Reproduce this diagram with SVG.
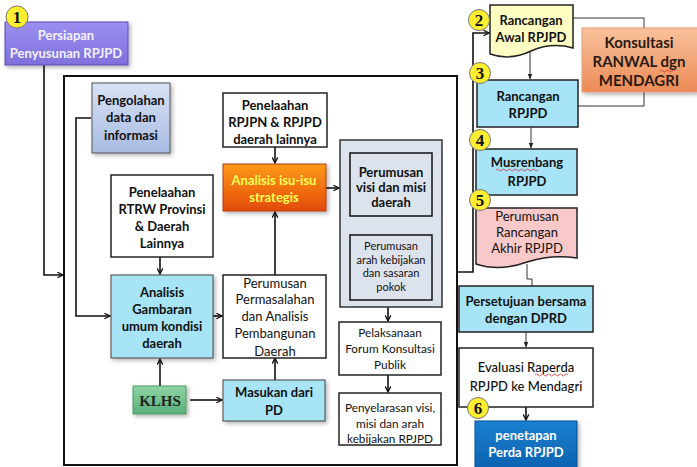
<svg xmlns="http://www.w3.org/2000/svg" width="697" height="467" viewBox="0 0 697 467">
<defs>
<style>
text{font-family:Lato,"Open Sans","Liberation Sans",sans-serif;font-size:13px;text-anchor:middle;fill:#111}
.b{font-weight:bold}
.s{font-size:11.8px}
.t{font-size:11px}
.w{fill:#fff}
.y{fill:#ffff55}
.num{font-family:"Liberation Serif","DejaVu Serif",serif;font-weight:bold;font-size:17px;fill:#111}
.box{stroke:#222;stroke-width:1.5}
.ln{fill:none;stroke:#111;stroke-width:1.6}
.thin{fill:none;stroke:#333;stroke-width:1}
.circ{fill:#ffef30;stroke:#777;stroke-width:1}
</style>
<marker id="ah" viewBox="0 0 10 10" refX="9" refY="5" markerWidth="7" markerHeight="7" orient="auto" markerUnits="userSpaceOnUse">
<path d="M1,1 L9,5 L1,9" fill="none" stroke="#111" stroke-width="1.8"/>
</marker>
<marker id="tri" viewBox="0 0 10 10" refX="9" refY="5" markerWidth="6" markerHeight="6" orient="auto" markerUnits="userSpaceOnUse">
<path d="M0,1 L10,5 L0,9 Z" fill="#222"/>
</marker>
<linearGradient id="gPurple" x1="0" y1="0" x2="0" y2="1"><stop offset="0" stop-color="#9b8ff0"/><stop offset="1" stop-color="#7f70dc"/></linearGradient>
<linearGradient id="gBlueGrey" x1="0" y1="0" x2="0" y2="1"><stop offset="0" stop-color="#d8e2f4"/><stop offset="1" stop-color="#a7bbe2"/></linearGradient>
<linearGradient id="gOrange" x1="0" y1="0" x2="0" y2="1"><stop offset="0" stop-color="#ff9a1a"/><stop offset="1" stop-color="#e24a08"/></linearGradient>
<linearGradient id="gPeach" x1="0" y1="0" x2="0" y2="1"><stop offset="0" stop-color="#f9c29c"/><stop offset="1" stop-color="#ec8a55"/></linearGradient>
<linearGradient id="gGreen" x1="0" y1="0" x2="0" y2="1"><stop offset="0" stop-color="#8fd4a4"/><stop offset="1" stop-color="#5bb07a"/></linearGradient>
<linearGradient id="gBlue" x1="0" y1="0" x2="0" y2="1"><stop offset="0" stop-color="#1a80d0"/><stop offset="1" stop-color="#0c62b0"/></linearGradient>
<filter id="sh" x="-10%" y="-10%" width="130%" height="140%"><feDropShadow dx="2" dy="2" stdDeviation="2" flood-color="#000" flood-opacity="0.3"/></filter>
</defs>
<rect width="697" height="467" fill="#fff"/>

<!-- big frame -->
<rect x="64" y="76" width="393" height="389" fill="none" stroke="#111" stroke-width="2"/>

<!-- connectors -->
<g id="connectors">
<path class="ln" d="M44,65 V275 H63" marker-end="url(#ah)"/>
<path class="ln" d="M91,118 H76 V316 H110" marker-end="url(#ah)"/>
<path class="ln" d="M275,147 V163" marker-end="url(#ah)"/>
<path class="ln" d="M326,188 H339" marker-end="url(#ah)"/>
<path class="ln" d="M160,257 V274" marker-end="url(#ah)"/>
<path class="ln" d="M213,316 H222" marker-end="url(#ah)"/>
<path class="ln" d="M275,275 V212" marker-end="url(#ah)"/>
<path class="ln" d="M160,386 V359" marker-end="url(#ah)"/>
<path class="ln" d="M190,400 H222" marker-end="url(#ah)"/>
<path class="ln" d="M275,380 V358" marker-end="url(#ah)"/>
<path class="ln" d="M388,216 V234" marker-end="url(#ah)"/>
<path class="ln" d="M388,307 V321" marker-end="url(#ah)"/>
<path class="ln" d="M388,375 V392" marker-end="url(#ah)"/>
<path class="ln" d="M457,272 H473 V33 H489" marker-end="url(#ah)"/>
<path class="thin" d="M573,18 H644 V106 H578"/>
<path class="thin" d="M530,52 V79" marker-end="url(#tri)"/>
<path class="thin" d="M531,127 V148" marker-end="url(#tri)"/>
<path class="thin" d="M527,264 V279 H532 V286"/>
<path class="thin" d="M526,332 V347" marker-end="url(#tri)"/>
<path class="ln" d="M526,407 V420" marker-end="url(#ah)"/>
</g>

<g id="n1">
<rect x="5" y="22" width="123" height="43" fill="url(#gPurple)" stroke="#5a4fb0" stroke-width="1" filter="url(#sh)"/>
<text class="b w" x="66" y="40" style="fill:#f4f0ff">Persiapan</text>
<text class="b w" x="66" y="58" style="fill:#f4f0ff">Penyusunan RPJPD</text>
<circle class="circ" cx="17" cy="17" r="11"/>
<text class="num" x="17" y="23">1</text>
</g>

<g id="pengolahan">
<rect x="92" y="83" width="78" height="70" fill="url(#gBlueGrey)" stroke="#555" stroke-width="1" filter="url(#sh)"/>
<text class="b" x="131" y="105">Pengolahan</text>
<text class="b" x="131" y="122">data dan</text>
<text class="b" x="131" y="140">informasi</text>
</g>

<g id="rpjpn">
<rect class="box" x="223" y="93" width="104" height="54" fill="#fff"/>
<text class="b" x="275" y="110">Penelaahan</text>
<text class="b" x="275" y="127">RPJPN &amp; RPJPD</text>
<text class="b" x="275" y="144">daerah lainnya</text>
</g>

<g id="isu">
<rect x="223" y="164" width="103" height="47" fill="url(#gOrange)" stroke="#b04010" stroke-width="1" filter="url(#sh)"/>
<text class="b y" x="274" y="185">Analisis isu-isu</text>
<text class="b y" x="274" y="202">strategis</text>
</g>

<g id="visiGroup">
<rect x="340" y="140" width="102" height="167" fill="#dde3ec" stroke="#333" stroke-width="1.5"/>
</g>
<g id="visi">
<rect x="350" y="153" width="82" height="63" fill="#dce3ed" stroke="#111" stroke-width="1.5"/>
<text class="b" x="391" y="177">Perumusan</text>
<text class="b" x="391" y="192">visi dan misi</text>
<text class="b" x="391" y="207">daerah</text>
</g>
<g id="arah">
<rect x="350" y="235" width="82" height="65" fill="#dce3ed" stroke="#111" stroke-width="1.5"/>
<text class="t" x="391" y="250">Perumusan</text>
<text class="t" x="391" y="263.6">arah kebijakan</text>
<text class="t" x="391" y="277.2">dan sasaran</text>
<text class="t" x="391" y="290.8">pokok</text>
</g>

<g id="forum">
<rect class="box" x="339" y="322" width="102" height="53" fill="#fff"/>
<text class="s" x="390" y="337">Pelaksanaan</text>
<text class="s" x="390" y="353">Forum Konsultasi</text>
<text class="s" x="390" y="369">Publik</text>
</g>

<g id="penyelarasan">
<rect class="box" x="339" y="393" width="102" height="52" fill="#fff"/>
<text class="s" x="390" y="412">Penyelarasan  visi,</text>
<text class="s" x="390" y="428">misi dan arah</text>
<text class="s" x="390" y="443">kebijakan RPJPD</text>
</g>

<g id="rtrw">
<rect class="box" x="111" y="175" width="102" height="82" fill="#fff"/>
<text class="b" x="162" y="197">Penelaahan</text>
<text class="b" x="162" y="214">RTRW Provinsi</text>
<text class="b" x="162" y="231">&amp; Daerah</text>
<text class="b" x="162" y="248">Lainnya</text>
</g>

<g id="gambaran">
<rect x="111" y="275" width="102" height="83" fill="#a6e4f6" stroke="#444" stroke-width="1" filter="url(#sh)"/>
<text class="b" x="162" y="297">Analisis</text>
<text class="b" x="162" y="314">Gambaran</text>
<text class="b" x="162" y="331">umum kondisi</text>
<text class="b" x="162" y="348">daerah</text>
</g>

<g id="permasalahan">
<rect class="box" x="223" y="275" width="103" height="83" fill="#fff"/>
<text x="275" y="288">Perumusan</text>
<text x="275" y="304">Permasalahan</text>
<text x="275" y="321">dan Analisis</text>
<text x="275" y="338">Pembangunan</text>
<text x="275" y="356">Daerah</text>
</g>

<g id="klhs">
<rect x="133" y="386" width="53" height="28" fill="url(#gGreen)" stroke="#4a9a66" stroke-width="1" filter="url(#sh)"/>
<text x="160" y="406" style="font-family:'Liberation Serif','DejaVu Serif',serif;font-weight:bold;font-size:15px;fill:#1d2a22">KLHS</text>
</g>

<g id="masukan">
<rect x="223" y="380" width="102" height="41" fill="#a6e4f6" stroke="#444" stroke-width="1" filter="url(#sh)"/>
<text class="b" x="274" y="397">Masukan dari</text>
<text class="b" x="274" y="415">PD</text>
</g>

<g id="ranwal">
<path d="M490,5 H573 V48 Q552,42 531,51 Q510,61 490,54 Z" fill="#ffffc4" stroke="#222" stroke-width="1.5"/>
<text class="b" x="531" y="25">Rancangan</text>
<text class="b" x="531" y="42">Awal RPJPD</text>
<circle class="circ" cx="479" cy="20" r="10.5"/>
<text class="num" x="479" y="26">2</text>
</g>

<g id="konsultasi">
<rect x="582" y="28" width="116" height="64" fill="url(#gPeach)" stroke="#e0a080" stroke-width="1" filter="url(#sh)"/>
<text class="b" x="639" y="48" style="font-size:15px;fill:#2a1a10">Konsultasi</text>
<text class="b" x="639" y="67" style="font-size:15px;fill:#2a1a10">RANWAL dgn</text>
<text class="b" x="639" y="86" style="font-size:15px;fill:#2a1a10">MENDAGRI</text>
<path d="M660,71 q1.5,-2 3,0 t3,0 t3,0 t3,0 t3,0" fill="none" stroke="#d03030" stroke-width="0.8"/>
</g>

<g id="rancangan">
<rect x="477" y="80" width="101" height="47" fill="#a8e4f8" stroke="#222" stroke-width="1.5"/>
<text class="b" x="528" y="101">Rancangan</text>
<text class="b" x="528" y="118">RPJPD</text>
<circle class="circ" cx="480" cy="73" r="10.5"/>
<text class="num" x="480" y="79">3</text>
</g>

<g id="musrenbang">
<rect x="476" y="149" width="101" height="46" fill="#a8e4f8" stroke="#222" stroke-width="1.5"/>
<text class="b" x="527" y="167">Musrenbang</text>
<path d="M496,170 q1.5,-2 3,0 t3,0 t3,0 t3,0 t3,0 t3,0 t3,0 t3,0 t3,0 t3,0 t3,0 t3,0 t3,0 t3,0" fill="none" stroke="#d03030" stroke-width="0.8"/>
<text class="b" x="527" y="186">RPJPD</text>
<circle class="circ" cx="480" cy="140" r="10.5"/>
<text class="num" x="480" y="146">4</text>
</g>

<g id="akhir">
<path d="M476,208 H577 V258 Q552,254 527,262 Q500,272 476,264 Z" fill="#f9c8c8" stroke="#222" stroke-width="1.5"/>
<text x="527" y="221">Perumusan</text>
<text x="527" y="237">Rancangan</text>
<text x="527" y="253">Akhir RPJPD</text>
<circle class="circ" cx="480" cy="200" r="10.5"/>
<text class="num" x="480" y="206">5</text>
</g>

<g id="persetujuan">
<rect x="459" y="286" width="134" height="46" fill="#a8e4f8" stroke="#222" stroke-width="1.5"/>
<text class="b" x="526" y="306">Persetujuan bersama</text>
<text class="b" x="526" y="323">dengan DPRD</text>
</g>

<g id="evaluasi">
<rect class="box" x="459" y="348" width="134" height="59" fill="#fff"/>
<text x="526" y="372" style="font-weight:500">Evaluasi Raperda</text>
<path d="M535,375 q1.5,-2 3,0 t3,0 t3,0 t3,0 t3,0 t3,0 t3,0 t3,0 t3,0 t3,0 t3,0" fill="none" stroke="#d03030" stroke-width="0.8"/>
<text x="526" y="391" style="font-weight:500">RPJPD ke Mendagri</text>
</g>

<g id="penetapan">
<rect x="475" y="421" width="102" height="48" fill="url(#gBlue)" stroke="#0a4f90" stroke-width="1" filter="url(#sh)"/>
<text class="b w" x="526" y="440">penetapan</text>
<text class="b w" x="526" y="457">Perda RPJPD</text>
<circle class="circ" cx="478" cy="408" r="10.5"/>
<text class="num" x="478" y="414">6</text>
</g>
</svg>
